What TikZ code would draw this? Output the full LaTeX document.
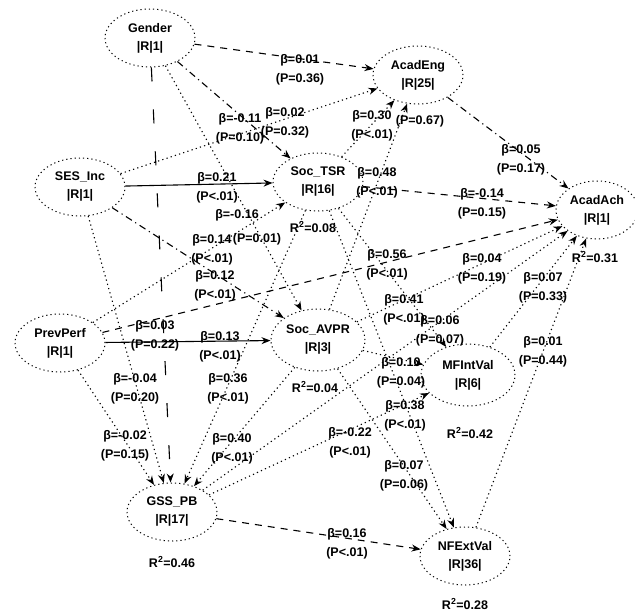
\documentclass[tikz,border=0pt]{standalone}
\usepackage{fontspec}
\setmainfont{Liberation Sans}
\usetikzlibrary{shapes.geometric,arrows.meta}
\begin{document}
\begin{tikzpicture}[x=1pt,y=-1pt,
  var/.style={ellipse, draw, line width=1pt, dash pattern=on 1.2pt off 3pt,
    minimum width=90pt, minimum height=58pt, align=center, inner sep=0pt,
    font=\bfseries\fontsize{12.5}{18}\selectfont},
  lab/.style={align=center, inner sep=0pt, font=\bfseries\fontsize{12.5}{19}\selectfont},
  rsq/.style={inner sep=0pt, font=\bfseries\fontsize{12.5}{14}\selectfont},
  conn/.style={line width=1.1pt, -{Stealth[length=9pt,width=7pt]}},
  pdot/.style={conn, dash pattern=on 1.2pt off 3.2pt},
  pdash/.style={conn, dash pattern=on 7pt off 6pt},
  pdd/.style={conn, dash pattern=on 7pt off 4pt on 1.2pt off 4pt},
  plong/.style={conn, dash pattern=on 14pt off 28pt},
  psolid/.style={conn}
]
\useasboundingbox (0,0) rectangle (635,614);

% variables
\node[var] (gen) at (150,38) {Gender\\|R|1|};
\node[var] (eng) at (418,75) {AcadEng\\|R|25|};
\node[var] (ses) at (80,187) {SES\_Inc\\|R|1|};
\node[var] (tsr) at (318,182) {Soc\_TSR\\|R|16|};
\node[var, minimum width=82pt] (ach) at (597,210) {AcadAch\\|R|1|};
\node[var] (prev) at (60,343) {PrevPerf\\|R|1|};
\node[var, minimum width=94pt, minimum height=62pt] (avpr) at (318,340) {Soc\_AVPR\\|R|3|};
\node[var, minimum width=94pt, minimum height=62pt] (mfi) at (468,375) {MFIntVal\\|R|6|};
\node[var] (gss) at (172,512) {GSS\_PB\\|R|17|};
\node[var] (nfe) at (465,556) {NFExtVal\\|R|36|};

% R squared
\node[rsq] (r1) at (313,227) {R\textsuperscript{2}=0.08};
\node[rsq] (r2) at (595,257) {R\textsuperscript{2}=0.31};
\node[rsq] (r3) at (315,387) {R\textsuperscript{2}=0.04};
\node[rsq] (r4) at (470,433) {R\textsuperscript{2}=0.42};
\node[rsq] (r5) at (172,562) {R\textsuperscript{2}=0.46};
\node[rsq] (r6) at (465,604) {R\textsuperscript{2}=0.28};

% paths
\draw[pdash] (gen) -- (eng);
\draw[pdd] (gen) -- (tsr);
\draw[pdot] (gen) -- (avpr);
\draw[plong] (gen) -- (gss);
\draw[pdot] (ses) -- (eng);
\draw[psolid] (ses) -- (tsr);
\draw[pdd] (ses) -- (avpr);
\draw[pdot] (ses) -- (gss);
\draw[pdot] (prev) -- (tsr);
\draw[psolid] (prev) -- (avpr);
\draw[pdot] (prev) -- (gss);
\draw[pdash] (prev) -- (ach);
\draw[pdot] (tsr) -- (eng);
\draw[pdot] (avpr) -- (eng);
\draw[pdd] (eng) -- (ach);
\draw[pdash] (tsr) -- (ach);
\draw[pdot] (tsr) -- (gss);
\draw[pdot] (avpr) -- (gss);
\draw[pdot] (tsr) -- (mfi);
\draw[pdot] (tsr) -- (nfe);
\draw[pdot] (avpr) -- (mfi);
\draw[pdot] (avpr) -- (nfe);
\draw[pdot] (avpr) -- (ach);
\draw[pdot] (gss) -- (mfi);
\draw[pdot] (gss) -- (ach);
\draw[pdash] (gss) -- (nfe);
\draw[pdot] (mfi) -- (ach);
\draw[pdot] (nfe) -- (ach);

% coefficient labels
\node[lab] (l1) at (300,70) {β=0.01\\(P=0.36)};
\node[lab] (l2) at (240,129) {β=-0.11\\(P=0.10)};
\node[lab] (l3) at (285,123) {β=0.02\\(P=0.32)};
\node[lab] (l4) at (372,126) {β=0.30\\(P<.01)};
\node[lab] (l5) at (420,121) {(P=0.67)};
\node[lab] (l6) at (521,160) {β=0.05\\(P=0.17)};
\node[lab] (l7) at (482,204) {β=-0.14\\(P=0.15)};
\node[lab] (l8) at (377,183) {β=0.48\\(P<.01)};
\node[lab] (l9) at (217,188) {β=0.21\\(P<.01)};
\node[lab] (l10) at (237,215) {β=-0.16};
\node[lab] (l11) at (257,239) {(P=0.01)};
\node[lab] (l12) at (212,250) {β=0.14\\(P<.01)};
\node[lab] (l13) at (215,286) {β=0.12\\(P<.01)};
\node[lab] (l14) at (155,336) {β=0.03\\(P=0.22)};
\node[lab] (l15) at (220,347) {β=0.13\\(P<.01)};
\node[lab] (l16) at (387,265) {β=0.56\\(P<.01)};
\node[lab] (l17) at (482,269) {β=0.04\\(P=0.19)};
\node[lab] (l18) at (543,288) {β=0.07\\(P=0.33)};
\node[lab] (l19) at (404,310) {β=0.41\\(P<.01)};
\node[lab] (l20) at (440,331) {β=0.06\\(P=0.07)};
\node[lab] (l21) at (543,352) {β=0.01\\(P=0.44)};
\node[lab] (l22) at (401,373) {β=0.10\\(P=0.04)};
\node[lab] (l23) at (135,389) {β=-0.04\\(P=0.20)};
\node[lab] (l24) at (228,389) {β=0.36\\(P<.01)};
\node[lab] (l25) at (405,416) {β=0.38\\(P<.01)};
\node[lab] (l26) at (350,443) {β=-0.22\\(P<.01)};
\node[lab] (l27) at (125,446) {β=-0.02\\(P=0.15)};
\node[lab] (l28) at (232,449) {β=0.40\\(P<.01)};
\node[lab] (l29) at (404,476) {β=0.07\\(P=0.06)};
\node[lab] (l30) at (347,544) {β=0.16\\(P<.01)};
\end{tikzpicture}
\end{document}
